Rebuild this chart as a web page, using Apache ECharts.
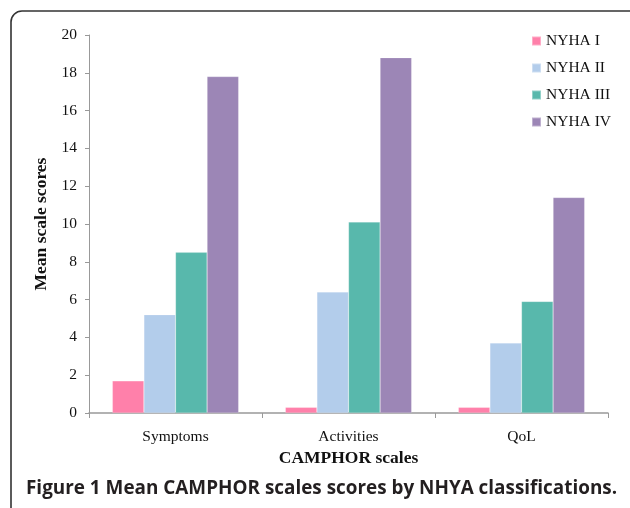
<!DOCTYPE html>
<html>
<head>
<meta charset="utf-8">
<script src="https://cdn.jsdelivr.net/npm/echarts@6/dist/echarts.min.js"></script>
<style>
html,body{margin:0;padding:0;background:#fff;}
#chart{width:630px;height:508px;}
</style>
</head>
<body>
<div id="chart"></div>
<script>
const categories = ['Symptoms', 'Activities', 'QoL'];
const seriesNames = ['NYHA I', 'NYHA II', 'NYHA III', 'NYHA IV'];
const nyha1 = [1.7, 0.3, 0.3];
const nyha2 = [5.2, 6.4, 3.7];
const nyha3 = [8.5, 10.1, 5.9];
const nyha4 = [17.8, 18.8, 11.4];
const yTicks = [0, 2, 4, 6, 8, 10, 12, 14, 16, 18, 20];
const colors = ['#FF80AA', '#B3CDEB', '#58B8AC', '#9C86B6'];
const seriesData = [nyha1, nyha2, nyha3, nyha4];

const chart = echarts.init(document.getElementById('chart'), null, {renderer: 'canvas'});
const serif = 'Liberation Serif';
chart.setOption({
  animation: false,
  backgroundColor: '#fff',
  graphic: [{
    type: 'rect',
    shape: {x: 11, y: 11, width: 640, height: 520, r: 11},
    style: {fill: 'none', stroke: '#333', lineWidth: 1.6},
    z: 100
  }],
  title: {
    text: 'Figure 1 Mean CAMPHOR scales scores by NHYA classifications.',
    left: 26, top: 479,
    padding: 0,
    textStyle: {fontFamily: 'Open Sans', fontWeight: 'bold', fontSize: 18.9, color: '#231f20'}
  },
  legend: {
    orient: 'vertical',
    left: 531, top: 33,
    padding: 0,
    itemWidth: 9, itemHeight: 9,
    itemGap: 11,
    icon: 'rect',
    textStyle: {fontFamily: serif, fontSize: 15.5, color: '#111'},
    data: seriesNames
  },
  grid: {left: 89, right: 22, top: 35, bottom: 95, containLabel: false},
  xAxis: {
    type: 'category',
    data: categories,
    name: 'CAMPHOR scales',
    nameLocation: 'middle',
    nameGap: 36,
    nameTextStyle: {fontFamily: serif, fontWeight: 'bold', fontSize: 17.5, color: '#111'},
    axisLine: {lineStyle: {color: '#999', width: 1.5}},
    axisTick: {show: true, length: 5, lineStyle: {color: '#999'}},
    axisLabel: {fontFamily: serif, fontSize: 15.5, color: '#111', margin: 16}
  },
  yAxis: {
    type: 'value',
    min: 0, max: 20, interval: 2,
    name: 'Mean scale scores',
    nameLocation: 'middle',
    nameGap: 34,
    nameTextStyle: {fontFamily: serif, fontWeight: 'bold', fontSize: 17.5, color: '#111'},
    splitLine: {show: false},
    axisLine: {show: true, lineStyle: {color: '#999', width: 1}},
    axisTick: {show: true, length: 4, lineStyle: {color: '#999'}},
    axisLabel: {fontFamily: serif, fontSize: 15.5, color: '#111', margin: 12,
      formatter: v => yTicks.includes(v) ? String(v) : ''}
  },
  series: seriesNames.map((n, i) => ({
    name: n,
    type: 'bar',
    data: seriesData[i],
    barGap: '0%',
    barCategoryGap: '27%',
    itemStyle: {color: colors[i], borderColor: 'rgba(255,255,255,0.35)', borderWidth: 0.5}
  }))
});
</script>
</body>
</html>
